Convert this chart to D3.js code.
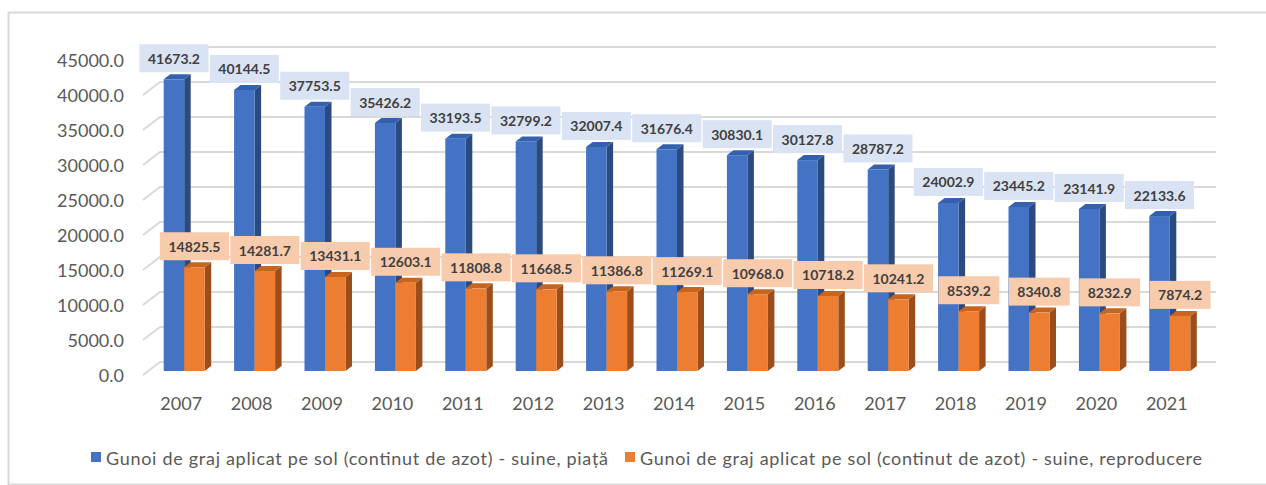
<!DOCTYPE html>
<html>
<head>
<meta charset="utf-8">
<script src="https://cdn.jsdelivr.net/npm/d3@7"></script>
<style>
  html, body { margin: 0; padding: 0; background: #ffffff; }
  svg { display: block; }
  text { font-family: Lato, "Noto Sans", sans-serif; }
</style>
</head>
<body>
<svg id="chart" width="1266" height="485"></svg>
<script>
// Years on the category axis
const years = ["2007", "2008", "2009", "2010", "2011", "2012", "2013", "2014",
               "2015", "2016", "2017", "2018", "2019", "2020", "2021"];

// Manure applied to soil (nitrogen content) - pigs, market
const piata = [41673.2, 40144.5, 37753.5, 35426.2, 33193.5, 32799.2, 32007.4, 31676.4,
               30830.1, 30127.8, 28787.2, 24002.9, 23445.2, 23141.9, 22133.6];

// Manure applied to soil (nitrogen content) - pigs, breeding
const reproducere = [14825.5, 14281.7, 13431.1, 12603.1, 11808.8, 11668.5, 11386.8, 11269.1,
                     10968.0, 10718.2, 10241.2, 8539.2, 8340.8, 8232.9, 7874.2];

const yTicks = [0, 5000, 10000, 15000, 20000, 25000, 30000, 35000, 40000, 45000];

const seriesNames = [
  "Gunoi de graj aplicat pe sol (continut de azot) - suine, piață",
  "Gunoi de graj aplicat pe sol (continut de azot) - suine, reproducere"
];

const svg = d3.select("#chart");

// outer chart frame
svg.append("rect")
  .attr("x", 8.5).attr("y", 12.5)
  .attr("width", 1275).attr("height", 472)
  .attr("fill", "none").attr("stroke", "#d9d9d9").attr("stroke-width", 2);

// 3D projection: floor/back wall depth offset
const depthX = 17, depthY = -13;

const x = d3.scaleBand().domain(years).range([143, 1199]);
const x1 = d3.scaleBand().domain(["piata", "reproducere"])
  .range([(x.bandwidth() - 41) / 2, (x.bandwidth() + 41) / 2]);
const y = d3.scaleLinear().domain([0, 45000]).range([375, 60]);

// gridlines: diagonal on side wall + horizontal on back wall
const grid = svg.append("g");
yTicks.forEach(t => {
  const yf = y(t);
  grid.append("path")
    .attr("d", `M143,${yf} L${143 + depthX},${yf + depthY} L${1199 + depthX},${yf + depthY}`)
    .attr("fill", "none").attr("stroke", "#d9d9d9").attr("stroke-width", 2);
});

// y axis tick labels
svg.append("g").selectAll("text").data(yTicks).join("text")
  .attr("x", 124).attr("y", d => y(d))
  .attr("text-anchor", "end").attr("dominant-baseline", "central")
  .attr("font-size", 18).attr("fill", "#595959")
  .text(d => d3.format(".1f")(d));

// x axis labels
svg.append("g").selectAll("text").data(years).join("text")
  .attr("x", d => x(d) + x.bandwidth() / 2 + 3).attr("y", 403)
  .attr("text-anchor", "middle").attr("dominant-baseline", "central")
  .attr("font-size", 18).attr("fill", "#595959")
  .text(d => d);

// bars sit partway into the depth
const barDX = 6, barDY = -4;
const sideX = 6.5, sideY = -5;

const series = [
  { key: "piata", values: piata, front: "#4472c4", side: "#2a4a80", top: "#3560ad",
    box: "#dae3f3" },
  { key: "reproducere", values: reproducere, front: "#ed7d31", side: "#9c4d1a", top: "#c7651f",
    box: "#f8cbad" }
];

const barsG = svg.append("g").attr("transform", `translate(${barDX},${barDY})`);
const w = x1.bandwidth();

series.forEach(s => {
  const g = barsG.append("g");
  const data = years.map((yr, i) => ({ yr, v: s.values[i] }));
  const bx = d => x(d.yr) + x1(s.key);
  // side face
  g.selectAll("path.side").data(data).join("path").attr("class", "side")
    .attr("d", d => {
      const x0 = bx(d) + w, yt = y(d.v), yb = y(0);
      return `M${x0},${yt} L${x0 + sideX},${yt + sideY} L${x0 + sideX},${yb + sideY} L${x0},${yb} Z`;
    })
    .attr("fill", s.side);
  // top face
  g.selectAll("path.top").data(data).join("path").attr("class", "top")
    .attr("d", d => {
      const x0 = bx(d), yt = y(d.v);
      return `M${x0},${yt} L${x0 + sideX},${yt + sideY} L${x0 + w + sideX},${yt + sideY} L${x0 + w},${yt} Z`;
    })
    .attr("fill", s.top);
  // front face
  g.selectAll("rect").data(data).join("rect")
    .attr("x", bx).attr("y", d => y(d.v))
    .attr("width", w).attr("height", d => y(0) - y(d.v))
    .attr("fill", s.front);
});

// value labels with filled boxes
series.forEach(s => {
  const g = barsG.append("g");
  years.forEach((yr, i) => {
    const v = s.values[i];
    const cx = x(yr) + x1(s.key) + w / 2;
    const boxH = 28;
    const boxBottom = y(v) + sideY - 2;
    const lg = g.append("g");
    const rect = lg.append("rect").attr("fill", s.box);
    const t = lg.append("text")
      .attr("x", cx).attr("y", boxBottom - boxH / 2)
      .attr("text-anchor", "middle").attr("dominant-baseline", "central")
      .attr("font-size", 14).attr("font-weight", "bold").attr("fill", "#404040")
      .text(d3.format(".1f")(v));
    const tw = t.node().getComputedTextLength();
    const bw = tw + 17;
    rect.attr("x", cx - bw / 2).attr("y", boxBottom - boxH)
      .attr("width", bw).attr("height", boxH);
  });
});

// legend
const legend = svg.append("g");
const legendItems = [
  { name: seriesNames[0], color: "#4472c4", x: 91, len: 502 },
  { name: seriesNames[1], color: "#ed7d31", x: 625, len: 562 }
];
legendItems.forEach(it => {
  legend.append("rect").attr("x", it.x).attr("y", 452)
    .attr("width", 10).attr("height", 10).attr("fill", it.color);
  legend.append("text").attr("x", it.x + 15).attr("y", 458)
    .attr("dominant-baseline", "central")
    .attr("font-size", 18).attr("fill", "#595959")
    .attr("textLength", it.len).attr("lengthAdjust", "spacing")
    .text(it.name);
});
</script>
</body>
</html>
